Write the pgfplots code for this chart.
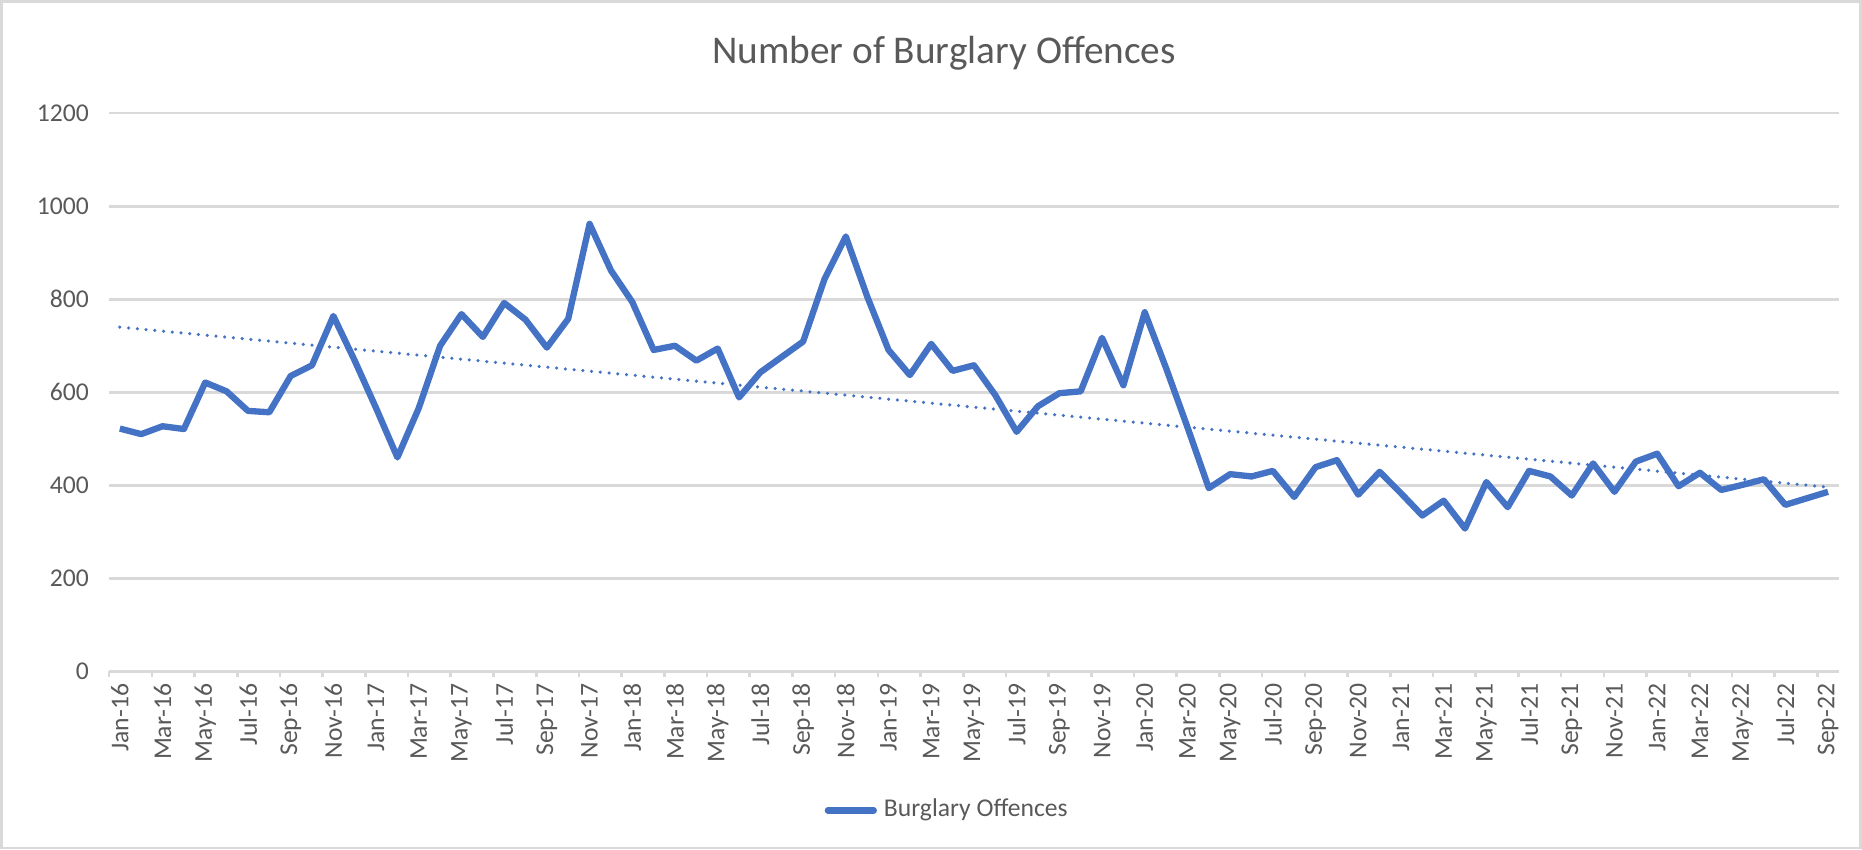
\documentclass[border=0pt]{standalone}
\usepackage{pgfplots}
\pgfplotsset{compat=1.18}
\usepackage{pgfplotstable}
\usepackage{fontspec}
\setmainfont{Carlito}
\definecolor{xlblue}{HTML}{4472C4}
\definecolor{xltext}{HTML}{595959}
\definecolor{xlgrid}{HTML}{D9D9D9}

% monthly counts, Jan-16 (0) to Sep-22 (80)
\pgfplotstableread{
idx count
0 522
1 510
2 527
3 521
4 621
5 602
6 560
7 557
8 635
9 658
10 764
11 668
12 566
13 460
14 566
15 700
16 768
17 719
18 792
19 756
20 696
21 758
22 962
23 862
24 794
25 691
26 700
27 668
28 694
29 589
30 643
31 676
32 709
33 843
34 935
35 806
36 691
37 637
38 704
39 646
40 658
41 594
42 515
43 570
44 598
45 602
46 717
47 615
48 772
49 652
50 525
51 394
52 424
53 419
54 431
55 375
56 439
57 454
58 380
59 429
60 383
61 335
62 367
63 307
64 407
65 353
66 431
67 419
68 378
69 447
70 386
71 451
72 468
73 398
74 427
75 390
76 401
77 413
78 358
79 372
80 386
}\burglary

\begin{document}
\begin{tikzpicture}
\draw[xlgrid, line width=0.75pt] (0,0) rectangle (186.2mm,84.8mm);
\node[text=xltext, font=\fontsize{11.2}{13}\selectfont] at (94.4mm,79.6mm) {Number of Burglary Offences};
\begin{axis}[
    at={(10.8mm,17.7mm)}, anchor=south west,
    scale only axis,
    width=173.2mm, height=55.9mm,
    xmin=-0.5, xmax=80.5,
    ymin=0, ymax=1200,
    ytick={0,200,...,1200},
    xtick={0,2,...,80},
    xticklabels={Jan-16,Mar-16,May-16,Jul-16,Sep-16,Nov-16,
        Jan-17,Mar-17,May-17,Jul-17,Sep-17,Nov-17,
        Jan-18,Mar-18,May-18,Jul-18,Sep-18,Nov-18,
        Jan-19,Mar-19,May-19,Jul-19,Sep-19,Nov-19,
        Jan-20,Mar-20,May-20,Jul-20,Sep-20,Nov-20,
        Jan-21,Mar-21,May-21,Jul-21,Sep-21,Nov-21,
        Jan-22,Mar-22,May-22,Jul-22,Sep-22},
    xtick pos=bottom,
    major tick length=0pt,
    extra x ticks={-0.5,1.5,...,79.5},
    extra x tick labels={},
    extra x tick style={major tick length=0.6mm, tick align=outside, xmajorgrids=false, tick style={xlgrid, line width=0.75pt}},
    ymajorgrids,
    grid style={xlgrid, line width=0.75pt},
    axis line style={draw=none},
    ytick style={draw=none},
    tick label style={text=xltext, font=\fontsize{7.3}{9}\selectfont},
    xticklabel style={rotate=90, anchor=east},
    yticklabel style={xshift=-0.8mm},
    /pgf/number format/assume math mode=true,
    /pgf/number format/1000 sep={},
    legend style={at={(0.486,-0.249)}, anchor=center, draw=none, fill=none,
        font=\fontsize{7.3}{9}\selectfont, text=xltext, legend columns=-1,
        /tikz/every even column/.append style={column sep=0pt}},
    legend image code/.code={\draw[#1, line cap=round] (0mm,0mm) -- (4.6mm,0mm);},
    clip=false,
]
\addplot[xlblue, line width=1.8pt, line join=round] table[x=idx, y=count] {\burglary};
\addlegendentry{Burglary Offences}
\addplot[forget plot, xlblue, line width=1pt, line cap=round, dash pattern=on 0pt off 2.5pt] coordinates {(0,740) (80,396)};
\end{axis}
\end{tikzpicture}
\end{document}
